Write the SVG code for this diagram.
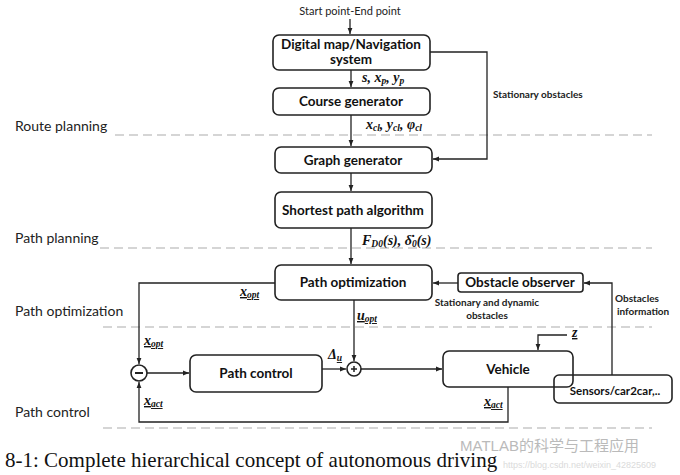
<svg xmlns="http://www.w3.org/2000/svg" width="680" height="475" viewBox="0 0 680 475">
<defs>
<marker id="ah" viewBox="0 0 10 10" refX="10" refY="5" markerWidth="6" markerHeight="6" orient="auto" markerUnits="userSpaceOnUse"><path d="M0,1 L10,5 L0,9 z" fill="#222"/></marker>
<style>
.box{fill:#fff;stroke:#222;stroke-width:1.6}
.bt{font-family:Lato,"Open Sans",sans-serif;font-weight:bold;font-size:13.5px;fill:#111;text-anchor:middle}
.sm{font-family:Lato,"Open Sans",sans-serif;font-weight:bold;font-size:10px;fill:#222}
.lb{font-family:Lato,"Open Sans",sans-serif;font-size:14px;fill:#222}
.m{font-family:"Liberation Serif",serif;font-weight:bold;font-style:italic;font-size:14px;fill:#111}
.sub{font-size:9.5px}
.ln{fill:none;stroke:#222;stroke-width:1.3}
.ds{stroke:#c8c8c8;stroke-width:1.3;stroke-dasharray:9 5;fill:none}
</style>
</defs>
<rect width="680" height="475" fill="#fff"/>
<g id="layers">
<path class="ds" d="M115,135 H652"/>
<path class="ds" d="M100,248 H652"/>
<path class="ds" d="M103,327 H652"/>
<path class="ds" d="M103,428 H652"/>
<text class="lb" x="15" y="131">Route planning</text>
<text class="lb" x="15" y="243">Path planning</text>
<text class="lb" x="15" y="316">Path optimization</text>
<text class="lb" x="15" y="417">Path control</text>
</g>
<g id="connectors">
<text x="350" y="15" text-anchor="middle" font-family="Lato,'Open Sans',sans-serif" font-size="11" fill="#222">Start point-End point</text>
<path class="ln" d="M350,19 V34" marker-end="url(#ah)"/>
<path class="ln" d="M351,70 V87" marker-end="url(#ah)"/>
<path class="ln" d="M351,115 V146" marker-end="url(#ah)"/>
<path class="ln" d="M351,173 V191" marker-end="url(#ah)"/>
<path class="ln" d="M351,228 V264" marker-end="url(#ah)"/>
<path class="ln" d="M430,52 H487 V159 H433" marker-end="url(#ah)"/>
<path class="ln" d="M458,283 H433" marker-end="url(#ah)"/>
<path class="ln" d="M612,375 V283 H584" marker-end="url(#ah)"/>
<path class="ln" d="M275,283 H139 V364" marker-end="url(#ah)"/>
<path class="ln" d="M147,373 H189" marker-end="url(#ah)"/>
<path class="ln" d="M322,369 H346" marker-end="url(#ah)"/>
<path class="ln" d="M354,300 V361" marker-end="url(#ah)"/>
<path class="ln" d="M361,369 H442" marker-end="url(#ah)"/>
<path class="ln" d="M567,335 H538 V350" marker-end="url(#ah)"/>
<path class="ln" d="M508,387 V422 H139 V382" marker-end="url(#ah)"/>
<text class="m" x="362" y="82">s, x<tspan class="sub" dy="2">p</tspan><tspan dy="-2">, y</tspan><tspan class="sub" dy="2">p</tspan></text>
<text class="m" x="366" y="129">x<tspan class="sub" dy="2">cl</tspan><tspan dy="-2">, y</tspan><tspan class="sub" dy="2">cl</tspan><tspan dy="-2">, φ</tspan><tspan class="sub" dy="2">cl</tspan></text>
<text class="m" x="362" y="245">F<tspan class="sub" dy="2">D0</tspan><tspan dy="-2">(s), δ̇</tspan><tspan class="sub" dy="2">0</tspan><tspan dy="-2">(s)</tspan></text>
<text class="sm" x="493" y="98">Stationary obstacles</text>
<text class="sm" x="487" y="306" text-anchor="middle">Stationary and dynamic</text>
<text class="sm" x="487" y="319" text-anchor="middle">obstacles</text>
<text class="sm" x="615" y="302">Obstacles</text>
<text class="sm" x="617" y="315">information</text>
<text class="m" x="240" y="296" text-decoration="underline">x<tspan class="sub" dy="2">opt</tspan></text>
<text class="m" x="144" y="345" text-decoration="underline">x<tspan class="sub" dy="2">opt</tspan></text>
<text class="m" x="144" y="405" text-decoration="underline">x<tspan class="sub" dy="2">act</tspan></text>
<text class="m" x="357" y="320" text-decoration="underline">u<tspan class="sub" dy="2">opt</tspan></text>
<text class="m" x="328" y="359">Δ<tspan class="sub" dy="2" text-decoration="underline">u</tspan></text>
<text class="m" x="572" y="337" text-decoration="underline">z</text>
<text class="m" x="484" y="406" text-decoration="underline">x<tspan class="sub" dy="2">act</tspan></text>
</g>
<g id="n-map"><rect class="box" x="273" y="35" width="157" height="35" rx="6"/><text class="bt" x="351" y="49">Digital map/Navigation</text><text class="bt" x="351" y="64">system</text></g>
<g id="n-course"><rect class="box" x="273" y="88" width="157" height="27" rx="6"/><text class="bt" x="351" y="106">Course generator</text></g>
<g id="n-graph"><rect class="box" x="275" y="147" width="157" height="26" rx="6"/><text class="bt" x="353" y="165">Graph generator</text></g>
<g id="n-short"><rect class="box" x="275" y="192" width="157" height="36" rx="6"/><text class="bt" x="353" y="215">Shortest path algorithm</text></g>
<g id="n-opt"><rect class="box" x="275" y="265" width="157" height="35" rx="6"/><text class="bt" x="353" y="287">Path optimization</text></g>
<g id="n-obs"><rect class="box" x="458" y="273" width="125" height="19" rx="3"/><text class="bt" x="520" y="287">Obstacle observer</text></g>
<g id="n-minus"><circle class="box" cx="139" cy="373" r="8"/><path d="M135,373 H143" stroke="#222" stroke-width="2"/></g>
<g id="n-ctrl"><rect class="box" x="190" y="355" width="132" height="37" rx="6"/><text class="bt" x="256" y="378">Path control</text></g>
<g id="n-plus"><circle class="box" cx="354" cy="369" r="7"/><path d="M351,369 H357 M354,366 V372" stroke="#222" stroke-width="1.5"/></g>
<g id="n-sensors"><rect class="box" x="554" y="375" width="118" height="28" rx="5"/><text class="bt" x="615" y="395" style="font-size:11.5px">Sensors/car2car,..</text></g>
<g id="n-vehicle"><rect class="box" x="443" y="351" width="130" height="36" rx="6" style="fill:none"/><text class="bt" x="508" y="374">Vehicle</text></g>
<g id="caption">
<text x="5" y="467" font-family="'Liberation Serif',serif" font-size="21" fill="#111">8-1: Complete hierarchical concept of autonomous driving</text>
<text x="460" y="451" font-family="'Liberation Sans','Noto Sans CJK SC',sans-serif" font-size="15" fill="#aaa" opacity="0.8">MATLAB的科学与工程应用</text>
<text x="503" y="468" font-family="'Liberation Sans',sans-serif" font-size="9" fill="#ccc" opacity="0.7">https://blog.csdn.net/weixin_42825609</text>
</g>
</svg>
